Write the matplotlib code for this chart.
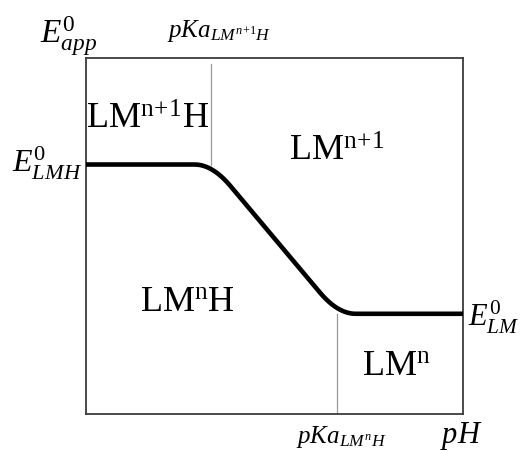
import matplotlib
matplotlib.use('Agg')
import matplotlib.pyplot as plt

plt.rcParams['font.family'] = ['Liberation Serif', 'DejaVu Serif']
plt.rcParams['mathtext.fontset'] = 'custom'
plt.rcParams['mathtext.rm'] = 'Liberation Serif'
plt.rcParams['mathtext.it'] = 'Liberation Serif:italic'
plt.rcParams['mathtext.bf'] = 'Liberation Serif:bold'

# schematic E0app vs pH curve (arbitrary units 0-10)
ph = [0.000, 2.874, 2.944, 3.024, 3.103, 3.183, 3.263, 3.342, 3.422,
      3.501, 3.581, 3.661, 3.740, 3.829,
      6.202, 6.287, 6.366, 6.446, 6.525, 6.605, 6.684, 6.764,
      6.844, 6.923, 7.003, 7.082, 7.157, 10.000]
e_app = [7.008, 7.008, 7.005, 6.994, 6.974, 6.946, 6.909, 6.864, 6.810,
         6.749, 6.679, 6.600, 6.514, 6.407,
         3.416, 3.314, 3.227, 3.148, 3.078, 3.015, 2.962, 2.916,
         2.879, 2.851, 2.830, 2.818, 2.815, 2.815]

pka1 = 3.32      # pKa of LM(n+1)H
pka2 = 6.66      # pKa of LM(n)H
pka1_top = 9.83
e_lmh = 7.008
e_lm = 2.815

W, H = 522, 451
fig = plt.figure(figsize=(W / 100, H / 100), dpi=100)
ax = fig.add_axes([86 / W, 1 - 414 / H, (463 - 86) / W, (414 - 58) / H])
ax.set_xlim(0, 10)
ax.set_ylim(0, 10)
ax.set_xticks([])
ax.set_yticks([])
for s in ax.spines.values():
    s.set_color('#3c3c3c')
    s.set_linewidth(1.3)

ax.plot([pka1, pka1], [e_lmh, pka1_top], color='#9a9a9a', lw=0.9)
ax.plot([pka2, pka2], [0, e_lm], color='#9a9a9a', lw=0.9)
ax.plot(ph, e_app, color='black', lw=3.3, solid_capstyle='butt',
        solid_joinstyle='round', clip_on=False, zorder=5)


def px(x, y):
    return x / W, 1 - y / H


# region labels
fig.text(*px(148, 129), r'$\mathrm{LM^{n\!+\!1}H}$', fontsize=26, ha='center', va='baseline')
fig.text(*px(337, 161), r'$\mathrm{LM^{n\!+\!1}}$', fontsize=26, ha='center', va='baseline')
fig.text(*px(187, 311), r'$\mathrm{LM^{n}H}$', fontsize=26, ha='center', va='baseline')
fig.text(*px(396, 375), r'$\mathrm{LM^{n}}$', fontsize=26, ha='center', va='baseline')

# axis / level labels
fig.text(*px(40, 43), r'$E^{\mathit{0}}_{app}$', fontsize=24, ha='left', va='baseline')
fig.text(*px(82, 172), r'$E^{0}_{LMH}$', fontsize=23, ha='right', va='baseline')
fig.text(*px(468, 326), r'$E^{0}_{LM}$', fontsize=22, ha='left', va='baseline')
fig.text(*px(167, 37), r'$pKa_{LM^{n\!+\!1}H}$', fontsize=18, ha='left', va='baseline')
fig.text(*px(296, 443), r'$pKa_{LM^{n}H}$', fontsize=18, ha='left', va='baseline')
fig.text(*px(440, 443), r'$pH$', fontsize=22, ha='left', va='baseline')

fig.savefig('out.png', dpi=100)
